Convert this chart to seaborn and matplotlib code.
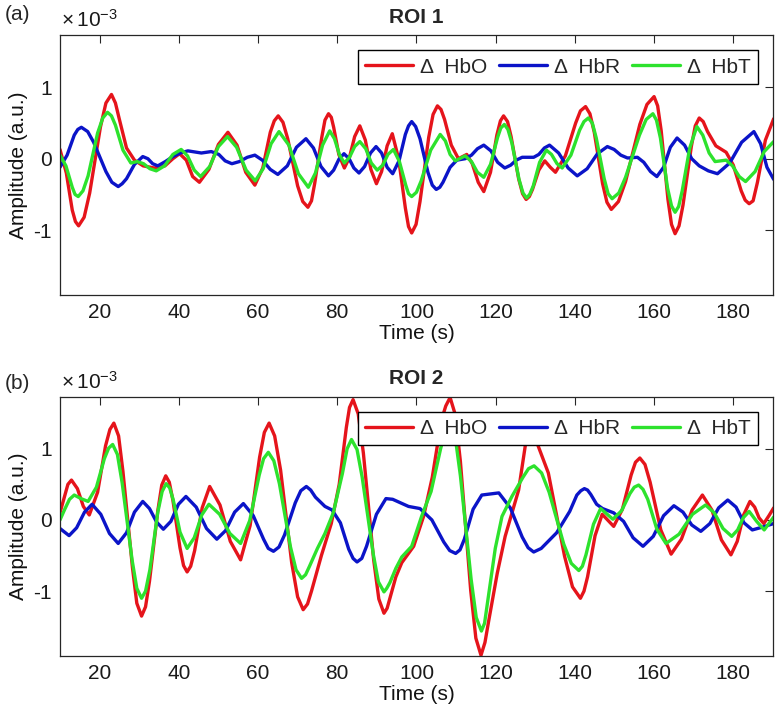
import pandas as pd
import matplotlib
matplotlib.use("Agg")
import matplotlib.pyplot as plt
import seaborn as sns
from matplotlib.lines import Line2D

# ROI 1, (time s, amplitude in 1e-3 a.u.)
roi1_hbo = [(10.0, 0.13), (11.6, -0.20), (13.1, -0.72), (13.9, -0.88), (14.7, -0.94), (16.1, -0.82), (17.5, -0.48),
            (20.2, 0.44), (21.6, 0.78), (23.0, 0.90), (24.0, 0.78), (25.0, 0.55), (26.8, 0.15), (28.8, -0.02),
            (31.0, -0.10), (33.8, -0.13), (36.5, -0.10), (38.5, 0.00), (40.2, 0.07), (41.9, -0.02), (43.5, -0.25),
            (45.2, -0.33), (47.6, -0.15), (50.0, 0.20), (52.4, 0.37), (54.7, 0.19), (56.9, -0.19), (59.2, -0.37),
            (61.2, -0.13), (63.1, 0.37), (64.1, 0.53), (65.1, 0.60), (66.3, 0.51), (67.5, 0.28), (70.0, -0.38),
            (71.3, -0.60), (72.6, -0.68), (73.5, -0.59), (74.3, -0.35), (76.1, 0.30), (76.9, 0.54), (77.8, 0.63),
            (78.5, 0.58), (79.1, 0.44), (80.4, 0.06), (81.8, -0.13), (83.1, 0.02), (84.4, 0.31), (85.7, 0.46),
            (87.1, 0.26), (88.5, -0.15), (89.9, -0.35), (91.2, -0.18), (92.6, 0.18), (93.9, 0.35), (95.5, 0.00),
            (97.2, -0.69), (98.0, -0.95), (98.8, -1.04), (99.9, -0.92), (100.9, -0.60), (103.1, 0.30), (104.2, 0.62),
            (105.3, 0.74), (106.2, 0.69), (107.1, 0.55), (108.8, 0.19), (110.6, 0.00), (112.7, 0.06), (114.1, -0.07),
            (115.6, -0.33), (117.0, -0.46), (118.7, -0.19), (120.3, 0.33), (121.2, 0.53), (122.0, 0.60), (123.0, 0.52),
            (123.9, 0.31), (125.8, -0.28), (126.8, -0.49), (127.7, -0.57), (128.5, -0.53), (129.3, -0.43),
            (130.9, -0.16), (132.4, -0.03), (133.8, -0.12), (135.1, -0.19), (137.6, 0.04), (140.2, 0.50),
            (141.4, 0.67), (142.7, 0.73), (143.8, 0.63), (144.9, 0.37), (147.0, -0.35), (148.1, -0.61),
            (149.2, -0.71), (151.0, -0.60), (152.8, -0.32), (156.4, 0.48), (158.2, 0.76), (160.0, 0.87),
            (160.9, 0.74), (161.8, 0.39), (163.5, -0.57), (164.4, -0.92), (165.3, -1.05), (166.3, -0.94),
            (167.3, -0.65), (169.4, 0.17), (170.4, 0.46), (171.4, 0.57), (172.4, 0.52), (173.5, 0.38), (175.6, 0.18),
            (178.2, 0.09), (180.0, -0.09), (182.0, -0.45), (183.0, -0.58), (184.0, -0.63), (185.0, -0.59),
            (186.1, -0.33), (188.1, 0.26), (190.2, 0.56)]

roi1_hbr = [(10.0, -0.12), (11.8, 0.05), (13.6, 0.33), (14.5, 0.41), (15.4, 0.44), (17.0, 0.38), (18.5, 0.23),
            (21.6, -0.18), (23.1, -0.33), (24.7, -0.39), (25.7, -0.35), (26.8, -0.28), (28.8, -0.08), (30.9, 0.03),
            (32.2, 0.00), (33.4, -0.07), (34.7, -0.10), (36.6, -0.04), (38.5, 0.03), (40.4, 0.08), (42.3, 0.11),
            (45.7, 0.08), (48.2, 0.10), (50.1, 0.06), (51.7, -0.03), (53.4, -0.07), (55.3, -0.04), (57.3, 0.02),
            (59.2, 0.05), (61.1, -0.02), (63.1, -0.15), (65.0, -0.22), (67.4, -0.10), (69.7, 0.16), (72.1, 0.28),
            (74.0, 0.15), (75.9, -0.11), (77.8, -0.24), (79.1, -0.16), (80.4, -0.01), (81.7, 0.07), (83.0, 0.00),
            (84.2, -0.13), (85.5, -0.20), (86.9, -0.11), (88.4, 0.08), (89.8, 0.17), (91.2, 0.08), (92.6, -0.12),
            (94.0, -0.21), (95.6, -0.03), (97.2, 0.34), (98.0, 0.46), (98.8, 0.52), (99.8, 0.45), (100.9, 0.28),
            (102.9, -0.19), (104.0, -0.37), (105.0, -0.43), (105.9, -0.40), (106.7, -0.33), (108.5, -0.12),
            (110.2, -0.02), (112.3, 0.00), (113.9, 0.05), (115.4, 0.14), (117.0, 0.19), (118.8, 0.11), (120.5, -0.05),
            (122.3, -0.13), (123.8, -0.09), (125.2, -0.02), (126.7, 0.02), (129.6, 0.02), (130.9, 0.06), (132.3, 0.15),
            (133.6, 0.19), (135.9, 0.08), (138.3, -0.13), (140.6, -0.24), (143.1, -0.14), (145.7, 0.07), (148.2, 0.17),
            (149.9, 0.13), (151.6, 0.05), (153.3, 0.01), (155.8, 0.02), (157.4, -0.05), (159.1, -0.18), (160.7, -0.25),
            (162.4, -0.12), (164.1, 0.16), (165.8, 0.29), (167.7, 0.19), (169.5, 0.00), (171.4, -0.10), (173.7, -0.17),
            (176.0, -0.21), (179.1, -0.06), (182.1, 0.23), (185.2, 0.38), (186.9, 0.21), (188.5, -0.12), (190.2, -0.29)]

roi1_hbt = [(10.0, 0.05), (11.5, -0.10), (13.1, -0.40), (13.8, -0.50), (14.6, -0.53), (15.8, -0.45), (17.1, -0.24),
            (19.5, 0.36), (20.8, 0.57), (22.0, 0.65), (23.0, 0.60), (24.0, 0.47), (25.9, 0.12), (27.9, -0.06),
            (29.5, -0.04), (31.1, -0.07), (32.7, -0.14), (34.3, -0.17), (36.4, -0.10), (38.5, 0.06), (40.6, 0.13),
            (42.2, 0.04), (43.9, -0.16), (45.5, -0.25), (47.8, -0.11), (50.0, 0.17), (52.3, 0.31), (54.6, 0.16),
            (57.0, -0.16), (59.3, -0.31), (61.3, -0.14), (63.3, 0.21), (65.3, 0.38), (67.8, 0.19), (70.2, -0.21),
            (72.7, -0.40), (74.5, -0.20), (76.3, 0.19), (78.1, 0.39), (79.3, 0.28), (80.6, 0.05), (81.8, -0.06),
            (83.1, 0.02), (84.4, 0.17), (85.7, 0.24), (87.2, 0.14), (88.6, -0.06), (90.1, -0.16), (91.5, -0.09),
            (92.8, 0.06), (94.2, 0.13), (95.7, -0.04), (97.3, -0.37), (98.0, -0.49), (98.8, -0.53), (100.0, -0.47),
            (101.2, -0.31), (103.6, 0.12), (106.0, 0.34), (107.3, 0.25), (108.5, 0.06), (109.8, -0.03), (112.3, 0.04),
            (113.9, -0.04), (115.4, -0.19), (117.0, -0.26), (118.7, -0.08), (120.5, 0.30), (121.3, 0.43),
            (122.2, 0.48), (123.1, 0.41), (124.1, 0.22), (125.9, -0.29), (126.9, -0.48), (127.8, -0.55),
            (128.6, -0.50), (129.5, -0.38), (131.1, -0.05), (132.8, 0.12), (134.1, 0.06), (135.5, -0.07),
            (136.8, -0.13), (139.0, 0.05), (141.2, 0.40), (142.3, 0.52), (143.4, 0.57), (144.4, 0.50), (145.4, 0.29),
            (147.4, -0.28), (148.4, -0.49), (149.4, -0.56), (151.1, -0.48), (152.8, -0.26), (156.3, 0.33),
            (158.0, 0.55), (159.7, 0.63), (160.6, 0.54), (161.6, 0.29), (163.4, -0.41), (164.4, -0.66),
            (165.3, -0.75), (166.2, -0.67), (167.1, -0.45), (169.0, 0.15), (170.8, 0.45), (172.3, 0.33),
            (173.9, 0.08), (175.4, -0.04), (178.2, -0.02), (179.8, -0.10), (181.5, -0.25), (183.1, -0.32),
            (185.5, -0.18), (187.8, 0.10), (190.2, 0.24)]

# ROI 2, (time s, amplitude in 1e-3 a.u.)
roi2_hbo = [(10.0, 0.10), (11.0, 0.30), (12.0, 0.50), (12.9, 0.56), (14.4, 0.44), (15.9, 0.19), (17.4, 0.07),
            (19.5, 0.39), (21.5, 1.04), (22.6, 1.27), (23.6, 1.36), (24.8, 1.18), (25.9, 0.68), (28.3, -0.67),
            (29.4, -1.17), (30.6, -1.35), (31.6, -1.22), (32.6, -0.86), (34.7, 0.13), (35.7, 0.49), (36.7, 0.62),
            (37.6, 0.53), (38.5, 0.28), (40.3, -0.39), (41.2, -0.64), (42.1, -0.73), (43.0, -0.65), (44.0, -0.43),
            (45.9, 0.17), (47.8, 0.47), (50.4, 0.21), (53.0, -0.30), (55.6, -0.56), (58.0, -0.08), (60.4, 0.88),
            (61.6, 1.23), (62.8, 1.36), (64.2, 1.18), (65.7, 0.70), (68.5, -0.60), (70.0, -1.08), (71.4, -1.26),
            (72.5, -1.18), (73.5, -1.00), (76.0, -0.50), (78.5, -0.05), (80.5, 0.50), (82.3, 1.30), (83.1, 1.58),
            (84.0, 1.69), (85.3, 1.49), (86.6, 0.94), (89.2, -0.56), (90.5, -1.11), (91.8, -1.31), (92.6, -1.24),
            (93.3, -1.10), (94.8, -0.80), (96.3, -0.60), (99.3, -0.37), (101.8, 0.05), (104.0, 0.60), (106.3, 1.40),
            (107.4, 1.60), (108.5, 1.72), (109.8, 1.48), (111.1, 0.82), (113.7, -0.99), (115.0, -1.66),
            (116.3, -1.90), (117.3, -1.72), (118.3, -1.40), (120.4, -0.75), (122.4, -0.23), (125.8, 0.42),
            (127.5, 1.05), (129.3, 1.25), (133.3, 0.66), (137.4, -0.51), (139.4, -0.94), (141.4, -1.10),
            (142.3, -1.00), (143.2, -0.80), (145.1, -0.22), (146.9, 0.08), (149.8, -0.09), (152.0, 0.15),
            (154.2, 0.63), (155.3, 0.81), (156.4, 0.87), (157.7, 0.78), (159.0, 0.53), (161.7, -0.14),
            (164.3, -0.48), (166.9, -0.27), (169.6, 0.14), (172.2, 0.35), (174.6, 0.14), (177.0, -0.28),
            (179.4, -0.49), (181.0, -0.30), (182.6, 0.07), (184.2, 0.26), (185.4, 0.18), (186.5, 0.03),
            (187.7, -0.05), (189.0, 0.06), (190.2, 0.17)]

roi2_hbr = [(10.0, -0.12), (12.3, -0.22), (14.2, -0.11), (16.2, 0.11), (18.1, 0.22), (20.3, 0.08), (22.5, -0.19),
            (24.7, -0.33), (26.8, -0.18), (28.8, 0.11), (30.9, 0.26), (32.6, 0.16), (34.4, -0.03), (36.1, -0.13),
            (38.0, -0.02), (39.9, 0.22), (41.8, 0.33), (44.4, 0.18), (47.0, -0.12), (49.6, -0.27), (51.8, -0.15),
            (54.1, 0.11), (56.3, 0.23), (58.8, 0.06), (61.4, -0.27), (62.6, -0.40), (63.9, -0.44), (65.3, -0.38),
            (66.7, -0.21), (69.4, 0.24), (70.8, 0.41), (72.2, 0.47), (73.3, 0.42), (74.5, 0.32), (76.9, 0.19),
            (78.7, 0.14), (80.8, -0.04), (82.9, -0.41), (84.0, -0.54), (85.0, -0.59), (86.2, -0.54), (87.4, -0.37),
            (89.9, 0.08), (92.3, 0.30), (94.0, 0.29), (98.0, 0.19), (100.9, 0.16), (103.9, 0.00), (106.9, -0.31),
            (108.4, -0.43), (109.9, -0.47), (111.0, -0.42), (112.1, -0.27), (114.3, 0.15), (116.5, 0.35),
            (120.8, 0.38), (123.7, 0.17), (126.7, -0.24), (128.2, -0.39), (129.6, -0.45), (131.5, -0.40),
            (135.4, -0.18), (138.7, 0.12), (140.5, 0.35), (141.5, 0.41), (142.4, 0.44), (143.2, 0.42), (144.0, 0.36),
            (145.5, 0.22), (147.0, 0.16), (149.8, 0.10), (152.3, -0.02), (154.7, -0.25), (157.2, -0.37),
            (159.8, -0.23), (162.4, 0.06), (165.0, 0.20), (167.3, 0.11), (169.5, -0.07), (171.8, -0.16),
            (174.1, -0.05), (176.3, 0.17), (178.6, 0.28), (180.7, 0.18), (182.7, -0.04), (184.8, -0.14),
            (187.4, -0.10), (190.2, -0.05)]

roi2_hbt = [(10.0, 0.00), (11.2, 0.15), (12.4, 0.29), (13.6, 0.35), (15.3, 0.30), (17.1, 0.26), (19.2, 0.46),
            (21.2, 0.86), (22.3, 1.01), (23.3, 1.06), (24.5, 0.92), (25.7, 0.52), (28.2, -0.56), (29.4, -0.96),
            (30.6, -1.10), (31.6, -1.00), (32.7, -0.70), (34.7, 0.11), (35.8, 0.40), (36.8, 0.51), (37.7, 0.45),
            (38.6, 0.28), (40.3, -0.17), (42.1, -0.40), (43.9, -0.25), (45.8, 0.07), (47.6, 0.22), (50.3, 0.08),
            (52.9, -0.19), (55.6, -0.33), (57.9, -0.01), (60.3, 0.63), (61.4, 0.86), (62.6, 0.95), (64.0, 0.83),
            (65.4, 0.51), (68.2, -0.38), (69.6, -0.70), (71.0, -0.82), (72.0, -0.77), (73.0, -0.65), (75.0, -0.40),
            (76.9, -0.19), (79.0, 0.10), (81.3, 0.65), (82.5, 1.00), (83.6, 1.13), (85.0, 0.99), (86.3, 0.60),
            (89.1, -0.48), (90.4, -0.87), (91.8, -1.01), (92.5, -0.96), (93.3, -0.88), (94.8, -0.68), (96.3, -0.52),
            (98.8, -0.37), (101.3, 0.05), (103.7, 0.40), (106.1, 1.00), (107.3, 1.25), (108.5, 1.35), (109.8, 1.16),
            (111.1, 0.62), (113.8, -0.83), (115.1, -1.37), (116.4, -1.56), (117.2, -1.45), (118.1, -1.10),
            (119.9, -0.40), (121.6, 0.05), (124.1, 0.33), (126.9, 0.60), (128.3, 0.72), (129.7, 0.76), (131.6, 0.66),
            (133.5, 0.39), (137.2, -0.34), (139.1, -0.61), (141.0, -0.71), (141.9, -0.65), (142.8, -0.49),
            (144.7, -0.06), (146.5, 0.16), (149.6, 0.01), (151.8, 0.13), (153.9, 0.37), (155.0, 0.46), (156.1, 0.49),
            (157.2, 0.43), (158.4, 0.29), (160.7, -0.13), (163.0, -0.33), (166.3, -0.20), (169.7, 0.08),
            (173.0, 0.21), (175.2, 0.10), (177.4, -0.12), (179.6, -0.23), (181.1, -0.14), (182.5, 0.03),
            (184.0, 0.12), (185.9, -0.02), (187.8, -0.14), (190.2, 0.04)]

series_names = ["HbO", "HbR", "HbT"]
series_colors = ["#e5141b", "#0b14c8", "#2de22d"]
x_ticks = [20, 40, 60, 80, 100, 120, 140, 160, 180]
y_ticks = [-1, 0, 1]


def build_frame(series):
    parts = []
    for name, pts in zip(series_names, series):
        d = pd.DataFrame(pts, columns=["time", "amp"])
        d["series"] = name
        parts.append(d)
    return pd.concat(parts, ignore_index=True)


df1 = build_frame([roi1_hbo, roi1_hbr, roi1_hbt])
df2 = build_frame([roi2_hbo, roi2_hbr, roi2_hbt])

sns.set_style("white")
plt.rcParams["font.family"] = ["Liberation Sans", "DejaVu Sans"]
plt.rcParams["mathtext.default"] = "regular"

fig = plt.figure(figsize=(7.8, 7.18), dpi=100)
ax1 = fig.add_axes([0.0769, 0.589, 0.914, 0.362])
ax2 = fig.add_axes([0.0769, 0.0864, 0.914, 0.361])

palette = dict(zip(series_names, series_colors))
axis_col = "#262626"

for ax, df, title, tag, tag_y in [(ax1, df1, "ROI 1", "(a)", 15), (ax2, df2, "ROI 2", "(b)", 383)]:
    sns.lineplot(data=df, x="time", y="amp", hue="series", palette=palette,
                 estimator=None, sort=False, linewidth=2.4, legend=False, ax=ax,
                 solid_joinstyle="round", solid_capstyle="round")
    ax.set_xlim(10, 190)
    ax.set_ylim(-1.91, 1.73)
    ax.set_xticks(x_ticks)
    ax.set_yticks(y_ticks)
    ax.set_yticklabels([str(y) for y in y_ticks])
    ax.tick_params(direction="in", length=6, width=0.8, top=True, right=True,
                   labelsize=15, colors=axis_col, labelcolor="#1a1a1a", pad=6)
    for sp in ax.spines.values():
        sp.set_color(axis_col)
        sp.set_linewidth(0.9)
    ax.set_xlabel("Time (s)", fontsize=15, labelpad=1, color="#111111")
    ax.set_ylabel("Amplitude (a.u.)", fontsize=15, labelpad=4, color="#111111")
    ax.set_title(title, fontsize=15, fontweight="bold", pad=9)
    ax.annotate(r"$\times\,10^{-3}$", xy=(0, 1), xycoords="axes fraction",
                xytext=(1, 3), textcoords="offset points", fontsize=15,
                ha="left", va="bottom", color="#1a1a1a")
    fig.text(17 / 780, 1 - tag_y / 718, tag, fontsize=15, ha="center", va="center")

    handles = [Line2D([0], [0], color=c, lw=2.4) for c in series_colors]
    labels = ["\u0394  " + n for n in series_names]
    leg = ax.legend(handles, labels, ncol=3, loc="upper right", bbox_to_anchor=(0.979, 0.942),
                    fontsize=15, frameon=True, fancybox=False, framealpha=1,
                    handlelength=2.3, handletextpad=0.35, columnspacing=0.55,
                    borderpad=0.35, borderaxespad=0)
    leg.get_frame().set_edgecolor("black")
    leg.get_frame().set_linewidth(1.0)

fig.savefig("out.png", dpi=100)
